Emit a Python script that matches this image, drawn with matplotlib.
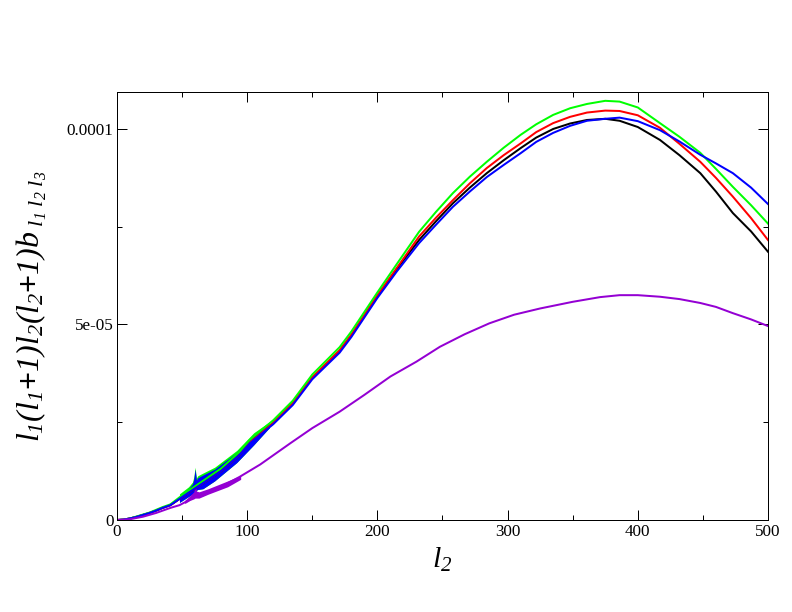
import numpy as np
import matplotlib.pyplot as plt
from matplotlib.ticker import MultipleLocator, FixedLocator, FixedFormatter

# multipole l2 sample points
ell = [0, 5, 10, 15, 20, 25, 30, 35, 41, 48, 55, 66, 80, 94, 102, 120, 135, 150,
       171, 180, 200, 215, 232, 245, 258, 271, 284, 297, 310, 322, 335, 348,
       361, 375, 386, 400, 417, 432, 448, 460, 473, 487, 500]

# values in units of 1e-5
black = [0, 0.01, 0.04, 0.08, 0.13, 0.18, 0.24, 0.31, 0.38, 0.54, 0.70, 0.94,
         1.25, 1.66, 1.98, 2.48, 2.98, 3.64, 4.33, 4.72, 5.72, 6.42, 7.16, 7.64,
         8.10, 8.50, 8.87, 9.20, 9.51, 9.78, 10.00, 10.14, 10.23, 10.26, 10.21,
         10.05, 9.72, 9.33, 8.87, 8.40, 7.85, 7.38, 6.86]
red = [0, 0.01, 0.04, 0.08, 0.13, 0.18, 0.24, 0.31, 0.38, 0.54, 0.70, 0.94,
       1.25, 1.66, 1.98, 2.48, 2.98, 3.65, 4.34, 4.74, 5.75, 6.45, 7.25, 7.73,
       8.18, 8.61, 9.00, 9.33, 9.63, 9.92, 10.15, 10.31, 10.42, 10.47, 10.46,
       10.35, 10.03, 9.62, 9.16, 8.75, 8.27, 7.72, 7.16]
green = [0, 0.01, 0.04, 0.09, 0.14, 0.19, 0.26, 0.33, 0.40, 0.58, 0.75, 1.00,
         1.32, 1.74, 2.05, 2.55, 3.05, 3.72, 4.42, 4.82, 5.82, 6.55, 7.37, 7.88,
         8.36, 8.78, 9.16, 9.52, 9.85, 10.12, 10.36, 10.53, 10.64, 10.72, 10.70,
         10.55, 10.15, 9.80, 9.39, 8.98, 8.52, 8.05, 7.58]
blue = [0, 0.01, 0.04, 0.08, 0.13, 0.18, 0.24, 0.31, 0.38, 0.54, 0.70, 0.94,
        1.25, 1.66, 1.96, 2.45, 2.94, 3.60, 4.28, 4.68, 5.68, 6.36, 7.08, 7.55,
        8.01, 8.40, 8.77, 9.08, 9.38, 9.67, 9.90, 10.08, 10.21, 10.26, 10.29,
        10.20, 9.97, 9.68, 9.34, 9.12, 8.87, 8.50, 8.08]

ell_p = [0, 10, 20, 30, 41, 48, 60, 66, 80, 94, 110, 133, 150, 171, 190, 210,
         230, 248, 267, 286, 305, 325, 350, 371, 386, 400, 417, 432, 448, 460,
         473, 487, 500]
purple = [0, 0.02, 0.085, 0.18, 0.31, 0.38, 0.59, 0.63, 0.85, 1.10, 1.42, 1.96,
          2.35, 2.77, 3.20, 3.67, 4.05, 4.43, 4.75, 5.03, 5.25, 5.41, 5.58, 5.70,
          5.75, 5.75, 5.71, 5.65, 5.55, 5.45, 5.29, 5.13, 4.96]

# ragged band at low l (envelopes)
band_l = [48, 55, 58, 59, 60, 61, 62, 66, 75, 92, 105, 117]
band_lo = [0.45, 0.60, 0.66, 0.70, 0.72, 0.76, 0.78, 0.80, 1.00, 1.47, 1.92, 2.36]
band_hi = [0.62, 0.80, 0.92, 1.05, 1.30, 1.02, 1.08, 1.15, 1.30, 1.73, 2.18, 2.46]
pband_l = [52, 56, 59, 60, 61, 63, 70, 85, 95]
pband_lo = [0.42, 0.50, 0.54, 0.56, 0.56, 0.56, 0.66, 0.85, 1.04]
pband_hi = [0.50, 0.62, 0.72, 0.90, 0.74, 0.72, 0.80, 1.00, 1.14]

plt.rcParams['font.family'] = ['Liberation Serif', 'DejaVu Serif']
plt.rcParams['mathtext.fontset'] = 'custom'
plt.rcParams['mathtext.rm'] = 'Liberation Serif:italic'
plt.rcParams['mathtext.it'] = 'Liberation Serif:italic'
plt.rcParams['mathtext.bf'] = 'Liberation Serif:bold'

fig = plt.figure(figsize=(11, 8.5), dpi=72)
ax = fig.add_axes([0.1477, 0.1503, 0.822, 0.6994])

s = 1e-5
ax.plot(ell, np.array(black) * s, color='black', lw=2)
ax.plot(ell, np.array(red) * s, color='#ff0000', lw=2)
ax.fill_between(band_l, np.array(band_lo) * s, (np.array(band_hi) + 0.05) * s,
                color='#00ff00', lw=0)
ax.plot(ell, np.array(green) * s, color='#00ff00', lw=2)
ax.fill_between(band_l, np.array(band_lo) * s, np.array(band_hi) * s,
                color='#0000ff', lw=0)
ax.plot(ell, np.array(blue) * s, color='#0000ff', lw=2)
ax.fill_between(pband_l, np.array(pband_lo) * s, np.array(pband_hi) * s,
                color='#9400d3', lw=0)
ax.plot(ell_p, np.array(purple) * s, color='#9400d3', lw=2)

ax.set_xlim(0, 500)
ax.set_ylim(0, 1.0946e-4)

ax.xaxis.set_major_locator(MultipleLocator(100))
ax.xaxis.set_minor_locator(MultipleLocator(50))
ax.yaxis.set_major_locator(FixedLocator([0, 5e-5, 1e-4]))
ax.yaxis.set_major_formatter(FixedFormatter(['0', '5e-05', '0.0001']))
ax.yaxis.set_minor_locator(MultipleLocator(2.5e-5))
ax.tick_params(which='both', direction='in', top=True, right=True, labelsize=17)
ax.tick_params(which='major', length=10, width=1)
ax.tick_params(which='minor', length=5, width=1)
for sp in ax.spines.values():
    sp.set_linewidth(1)

ax.set_xlabel(r'$l_2$', fontsize=30, labelpad=6)
ax.set_ylabel(r'$l_1(l_1\mathbf{+}1)l_2(l_2\mathbf{+}1)b_{\ l_1\ l_2\ l_3}$',
              fontsize=32, labelpad=18)

fig.savefig('out.png', dpi=72)
